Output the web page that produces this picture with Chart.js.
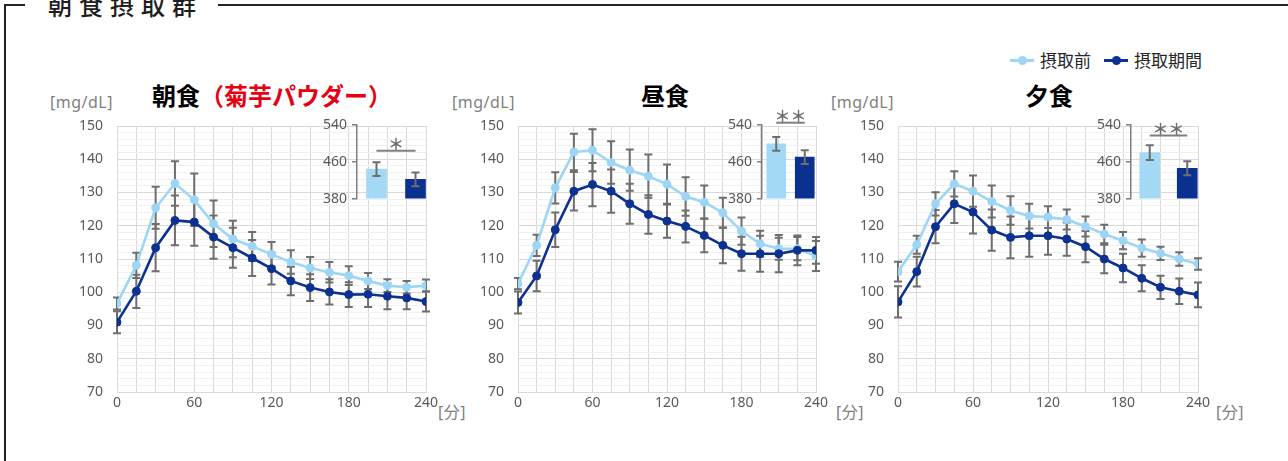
<!DOCTYPE html>
<html>
<head>
<meta charset="utf-8">
<script src="https://cdn.jsdelivr.net/npm/chart.js@4.4.0/dist/chart.umd.min.js"></script>
<style>
body{margin:0;background:#fff;font-family:"Noto Sans CJK JP","Noto Sans",sans-serif;}
#page{position:relative;width:1288px;height:461px;overflow:hidden;background:#fff;}
.frame{position:absolute;left:4px;top:4px;width:1400px;height:600px;border-left:2px solid #222;border-top:2px solid #222;}
.group-title{position:absolute;left:19px;top:-13px;padding:0 15px 0 23px;background:#fff;font-size:24px;line-height:24px;letter-spacing:7px;font-weight:500;color:#1e1e1e;}
.abs{position:absolute;white-space:nowrap;}
.panel-title{font-size:24px;line-height:24px;font-weight:bold;color:#000;}
.panel-title .red{color:#e60012;}
.unit{font-family:"Noto Sans","Noto Sans CJK JP",sans-serif;font-size:16px;line-height:16px;color:#7f7f7f;letter-spacing:0.5px;}
.legend{font-size:17px;line-height:20px;color:#262626;display:flex;align-items:center;}
.legend .sym{position:relative;display:inline-block;width:24px;height:20px;margin-right:6px;}
.legend .sym:before{content:"";position:absolute;left:0;right:0;top:9px;height:3px;background:var(--c);}
.legend .sym:after{content:"";position:absolute;left:8px;top:6px;width:9px;height:9px;border-radius:50%;background:var(--c);}
.legend .item{display:flex;align-items:center;margin-right:13px;}
canvas{position:absolute;}
</style>
</head>
<body>
<div id="page">
  <div class="frame"><div class="group-title">朝食摂取群</div></div>
  <div class="abs legend" id="legend" style="left:1010px;top:50px;"></div>

  <div class="abs unit" style="left:50px;top:94px;">[mg/dL]</div>
  <div class="abs panel-title" style="left:152px;top:83px;">朝食<span class="red">（菊芋パウダー）</span></div>
  <div class="abs unit" style="left:438px;top:404px;">[分]</div>

  <div class="abs unit" style="left:452px;top:94px;">[mg/dL]</div>
  <div class="abs panel-title" style="left:641px;top:83px;">昼食</div>
  <div class="abs unit" style="left:836px;top:404px;">[分]</div>

  <div class="abs unit" style="left:831px;top:94px;">[mg/dL]</div>
  <div class="abs panel-title" style="left:1025px;top:83px;">夕食</div>
  <div class="abs unit" style="left:1216px;top:404px;">[分]</div>
</div>

<script>
// time points [min]
const times = [0,15,30,45,60,75,90,105,120,135,150,165,180,195,210,225,240];
const seriesNames = ["摂取前","摂取期間"];

// 朝食
const breakfastBefore   = [96.6,108.1,125.4,132.7,127.8,120.6,116.0,113.8,111.4,109.1,107.3,106.0,105.0,103.4,102.0,101.5,102.0];
const breakfastBeforeSE = [1.8,3.8,6.3,6.7,7.9,7.0,5.5,4.3,3.7,3.5,3.3,3.1,2.8,2.4,1.9,1.9,1.8];
const breakfastDuring   = [91.0,100.3,113.4,121.6,121.1,116.6,113.4,110.3,107.1,103.4,101.4,100.1,99.3,99.4,98.8,98.3,97.2];
const breakfastDuringSE = [3.3,5.0,7.1,7.5,7.1,6.5,6.0,5.4,4.8,4.3,4.0,3.8,3.7,3.8,3.9,3.4,3.0];

// 昼食
const lunchBefore   = [102.6,114.1,131.4,142.2,142.7,139.0,136.7,134.9,132.5,128.8,127.1,123.9,118.4,114.6,113.1,113.1,110.9];
const lunchBeforeSE = [1.7,3.2,4.7,5.5,6.3,6.4,6.2,6.5,5.9,5.8,5.0,4.5,4.1,3.9,3.3,3.5,4.5];
const lunchDuring   = [96.9,104.9,118.8,130.4,132.4,130.4,126.6,123.4,121.4,119.8,117.1,114.1,111.6,111.6,111.6,112.6,112.6];
const lunchDuringSE = [3.3,4.6,5.2,5.8,6.5,6.5,6.0,5.8,5.0,4.8,5.1,5.4,5.1,5.4,5.6,4.5,4.0];

// 夕食
const dinnerBefore   = [106.2,114.3,126.6,132.6,130.4,127.3,124.6,122.9,122.6,121.9,119.8,117.5,115.5,113.3,111.7,110.0,108.5];
const dinnerBeforeSE = [3.0,2.7,3.5,3.8,4.7,4.8,4.3,3.7,3.3,3.0,3.0,2.8,2.6,2.6,2.0,2.0,1.7];
const dinnerDuring   = [97.1,106.2,119.7,126.6,124.1,118.7,116.5,117.0,117.0,116.0,113.7,110.0,107.3,104.2,101.5,100.3,99.2];
const dinnerDuringSE = [4.7,4.5,5.0,5.8,6.4,6.2,6.3,6.3,5.7,5.0,4.7,4.3,4.3,3.9,3.5,3.8,3.7];

// inset bars (AUC)
const aucTicks = [380,460,540];
const breakfastAuc = [444,422];   const breakfastAucSE = [15,15];
const lunchAuc     = [499,470];   const lunchAucSE     = [15,15];
const dinnerAuc    = [480,446];   const dinnerAucSE    = [16,15];
const sigMarks  = ["＊","＊＊","＊＊"];
const sigLevels = [484,545,517];

const LIGHT = "#9dd6f4", DARK = "#0c3190";
const BAR_LIGHT = "#a4d9f5", BAR_DARK = "#0b3190";
const ERR = "#6e6e6e", TICK = "#595959";

/* legend */
document.getElementById("legend").innerHTML = seriesNames.map((n,i) =>
  `<span class="item"><span class="sym" style="--c:${i?DARK:LIGHT}"></span>${n}</span>`).join("");

/* error bars + significance bracket */
const errorBarPlugin = {
  id: "errorBars",
  drawBars(chart){
    const ctx = chart.ctx, y = chart.scales.y;
    chart.data.datasets.forEach((ds, i) => {
      if(!ds.errors) return;
      const meta = chart.getDatasetMeta(i);
      ctx.save();
      ctx.strokeStyle = ERR; ctx.lineWidth = 2;
      meta.data.forEach((el, j) => {
        const v = typeof ds.data[j] === "object" ? ds.data[j].y : ds.data[j];
        const top = y.getPixelForValue(v + ds.errors[j]);
        const bot = y.getPixelForValue(v - ds.errors[j]);
        const cap = 4;
        ctx.beginPath();
        ctx.moveTo(el.x, top); ctx.lineTo(el.x, bot);
        ctx.moveTo(el.x-cap, top); ctx.lineTo(el.x+cap, top);
        ctx.moveTo(el.x-cap, bot); ctx.lineTo(el.x+cap, bot);
        ctx.stroke();
      });
      ctx.restore();
    });
  },
  beforeDatasetsDraw(chart){ if(chart.config.type === "line") this.drawBars(chart); },
  afterDatasetsDraw(chart){ if(chart.config.type === "bar") this.drawBars(chart); },
  afterDraw(chart, args, opts){
    if(!opts.sig) return;
    const ctx = chart.ctx, meta = chart.getDatasetMeta(0);
    const yy = chart.scales.y.getPixelForValue(opts.level);
    const x1 = meta.data[0].x, x2 = meta.data[1].x;
    ctx.save();
    ctx.strokeStyle = "#7f7f7f"; ctx.lineWidth = 2;
    ctx.beginPath(); ctx.moveTo(x1, yy); ctx.lineTo(x2, yy); ctx.stroke();
    ctx.fillStyle = "#6e6e6e";
    ctx.font = "bold 16px 'Noto Sans CJK JP'";
    ctx.textAlign = "center"; ctx.textBaseline = "bottom";
    ctx.fillText(opts.sig, (x1+x2)/2, yy + 1);
    ctx.restore();
  }
};

function mainChart(left, right, before, beforeSE, during, duringSE){
  const c = document.createElement("canvas");
  const padL = 60, padR = 30, top = 100, h = 330;
  c.width = right - left + padL + padR; c.height = h;
  c.style.left = (left - padL) + "px"; c.style.top = top + "px";
  document.getElementById("page").appendChild(c);
  const pts = arr => arr.map((v,i) => ({x: times[i], y: v}));
  const line = (label, data, errs, color, order) => ({
    label, data: pts(data), errors: errs, borderColor: color, backgroundColor: color,
    borderWidth: 2.6, pointRadius: 4, pointBackgroundColor: color, pointBorderColor: color,
    pointBorderWidth: 1, tension: 0, order
  });
  new Chart(c, {
    type: "line",
    data: { datasets: [
      line(seriesNames[0], before, beforeSE, LIGHT, 1),
      line(seriesNames[1], during, duringSE, DARK, 0)
    ]},
    options: {
      responsive: false, animation: false,
      layout: { padding: { top: 126 - top, right: padR, left: 0, bottom: 0 } },
      plugins: { legend: { display: false }, tooltip: { enabled: false } },
      scales: {
        x: {
          type: "linear", min: 0, max: 240,
          afterFit: s => { s.height = top + h - 392; },
          ticks: { stepSize: 15, autoSkip: false, maxRotation: 0, padding: 3,
                   color: TICK, font: { size: 14, family: "Noto Sans" },
                   callback: v => v % 60 === 0 ? v : "" },
          grid: { color: "#d9d9d9", lineWidth: 1, drawTicks: false },
          border: { color: "#d9d9d9" }
        },
        y: {
          min: 70, max: 150,
          afterFit: s => { s.width = padL; },
          ticks: { stepSize: 2, autoSkip: false, padding: 14,
                   color: TICK, font: { size: 14, family: "Noto Sans" },
                   callback: v => v % 10 === 0 ? v : "" },
          grid: { color: ctx => ctx.tick && ctx.tick.value % 10 === 0 ? "#d9d9d9" : "#f0f0f0",
                  lineWidth: 1, drawTicks: false },
          border: { color: "#d9d9d9" }
        }
      }
    },
    plugins: [errorBarPlugin]
  });
}

function insetChart(axisX, catW, barW, auc, aucSE, sig, level){
  const c = document.createElement("canvas");
  const padL = 45, padR = 12, top = 100, h = 112;
  c.width = padL + catW*2 + padR; c.height = h;
  c.style.left = (axisX - padL) + "px"; c.style.top = top + "px";
  document.getElementById("page").appendChild(c);
  new Chart(c, {
    type: "bar",
    data: { labels: seriesNames, datasets: [{
      data: auc, errors: aucSE, backgroundColor: [BAR_LIGHT, BAR_DARK], barThickness: barW
    }]},
    options: {
      responsive: false, animation: false,
      layout: { padding: { top: 125 - top, right: padR, left: 0, bottom: top + h - 199 } },
      plugins: { legend: { display: false }, tooltip: { enabled: false },
                 errorBars: { sig, level } },
      scales: {
        x: { display: false },
        y: {
          min: aucTicks[0], max: aucTicks[aucTicks.length-1],
          afterFit: s => { s.width = padL; },
          afterBuildTicks: s => { s.ticks = aucTicks.map(v => ({value: v})); },
          ticks: { padding: 5, color: TICK, font: { size: 14, family: "Noto Sans" } },
          grid: { display: true, drawOnChartArea: false, drawTicks: true, tickLength: 5,
                  color: "#7f7f7f", lineWidth: 1.5 },
          border: { color: "#7f7f7f", width: 1.5 }
        }
      }
    },
    plugins: [errorBarPlugin]
  });
}

mainChart(117, 426, breakfastBefore, breakfastBeforeSE, breakfastDuring, breakfastDuringSE);
mainChart(518, 816, lunchBefore, lunchBeforeSE, lunchDuring, lunchDuringSE);
mainChart(898, 1198, dinnerBefore, dinnerBeforeSE, dinnerDuring, dinnerDuringSE);

insetChart(357, 39, 20, breakfastAuc, breakfastAucSE, sigMarks[0], sigLevels[0]);
insetChart(762, 28.5, 19, lunchAuc, lunchAucSE, sigMarks[1], sigLevels[1]);
insetChart(1131, 37.5, 20, dinnerAuc, dinnerAucSE, sigMarks[2], sigLevels[2]);
</script>
</body>
</html>
